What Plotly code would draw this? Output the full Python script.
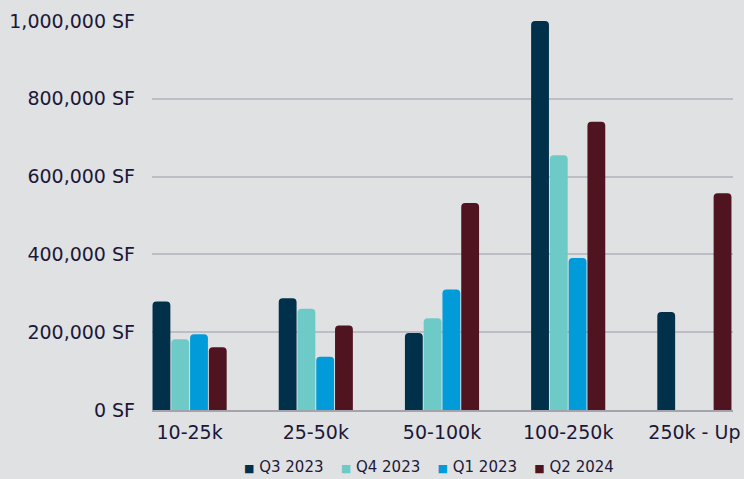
import plotly.graph_objects as go

categories = ["10-25k", "25-50k", "50-100k", "100-250k", "250k - Up"]
series_names = ["Q3 2023", "Q4 2023", "Q1 2023", "Q2 2024"]
q3_2023 = [279000, 287000, 198000, 1000000, 252000]
q4_2023 = [182000, 260000, 236000, 655000, None]
q1_2023 = [195000, 137000, 310000, 391000, None]
q2_2024 = [161000, 217000, 532000, 741000, 557000]
colors = ["#00304a", "#6ecac6", "#009bd8", "#4f1420"]
y_ticks = [0, 200000, 400000, 600000, 800000, 1000000]
y_tick_labels = ["0 SF", "200,000 SF", "400,000 SF", "600,000 SF", "800,000 SF", "1,000,000 SF"]

font_family = "DejaVu Sans, sans-serif"
text_color = "#1c1838"

fig = go.Figure()
for name, vals, col in zip(series_names, [q3_2023, q4_2023, q1_2023, q2_2024], colors):
    fig.add_trace(go.Bar(x=categories, y=vals, name=name, showlegend=False,
                         marker=dict(color=col, line=dict(width=0))))

# compact legend as a single text line (square swatch + series name)
nb = "\u00a0"
legend_parts = [
    f'<span style="color:{col};font-size:11px">\u25a0</span>{nb}{name}'
    for name, col in zip(series_names, colors)
]
legend_text = (nb * 3 + "\u2009").join(legend_parts)
fig.add_annotation(text=legend_text, xref="paper", yref="paper", x=0.476, y=-0.1465,
                   xanchor="center", yanchor="middle", showarrow=False,
                   font=dict(size=15, color=text_color, family=font_family))

fig.update_layout(
    width=744, height=479,
    paper_bgcolor="#e0e1e3", plot_bgcolor="#e0e1e3",
    margin=dict(l=152, r=11, t=21, b=69),
    barmode="group", bargap=0.405, bargroupgap=0.05, barcornerradius=4,
    font=dict(family=font_family, color=text_color, size=19),
    showlegend=False,
    xaxis=dict(range=[-0.298, 4.306], showgrid=False, ticks="", showline=True, automargin=False,
               linecolor="#a3a2ad", linewidth=2, tickfont=dict(size=19, color=text_color),
               ticklabelstandoff=4),
    yaxis=dict(range=[0, 1000000], tickvals=y_ticks, ticktext=y_tick_labels, automargin=False,
               showgrid=True, gridcolor="#bebdc6", gridwidth=1.5, zeroline=False,
               ticks="", tickfont=dict(size=19, color=text_color), ticklabelstandoff=16),
)
fig.write_html("out.html")
